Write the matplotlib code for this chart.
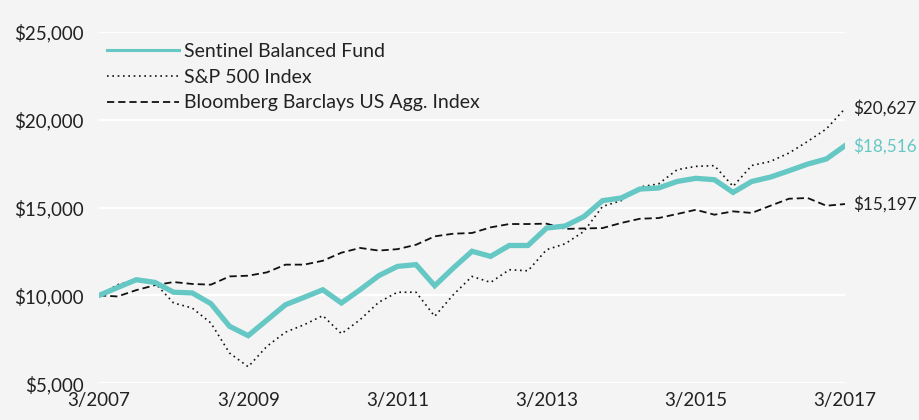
import matplotlib.pyplot as plt
from matplotlib.lines import Line2D

# quarterly values, 3/2007 .. 3/2017
quarters = list(range(41))
fund = [10000, 10450, 10890, 10740, 10180, 10140, 9530, 8240, 7710, 8590,
        9470, 9890, 10320, 9570, 10320, 11120, 11650, 11750, 10550, 11560,
        12510, 12220, 12840, 12840, 13830, 13950, 14480, 15390, 15540, 16050,
        16110, 16480, 16660, 16580, 15860, 16480, 16730, 17090, 17470, 17760,
        18516]
sp500 = [10000, 10610, 10890, 10700, 9570, 9280, 8430, 6720, 5940, 7100,
         7910, 8330, 8850, 7820, 8620, 9610, 10180, 10180, 8810, 10040,
         11080, 10740, 11460, 11400, 12600, 12940, 13640, 15060, 15390, 16170,
         16340, 17150, 17340, 17380, 16200, 17390, 17620, 18100, 18760, 19470,
         20627]
agg = [10000, 9940, 10300, 10580, 10760, 10650, 10610, 11080, 11120, 11310,
       11750, 11750, 11970, 12430, 12700, 12550, 12630, 12880, 13360, 13510,
       13550, 13870, 14060, 14060, 14080, 13780, 13810, 13830, 14120, 14360,
       14400, 14630, 14870, 14590, 14780, 14690, 15100, 15500, 15540, 15100,
       15197]

series_names = ['Sentinel Balanced Fund', 'S&P 500 Index', 'Bloomberg Barclays US Agg. Index']
end_labels = ['$18,516', '$20,627', '$15,197']
x_ticks = [0, 8, 16, 24, 32, 40]
x_labels = ['3/2007', '3/2009', '3/2011', '3/2013', '3/2015', '3/2017']
y_ticks = [5000, 10000, 15000, 20000, 25000]
y_labels = ['$5,000', '$10,000', '$15,000', '$20,000', '$25,000']

teal = '#66c8c4'
txt = '#222222'
bg = '#f4f4f4'

plt.rcParams['font.family'] = ['Lato', 'DejaVu Sans']

fig = plt.figure(figsize=(9.2, 4.2), dpi=100, facecolor=bg)
ax = fig.add_axes([99 / 920, (420 - 383.3) / 420, 746 / 920, (383.3 - 31.7) / 420])
ax.set_facecolor(bg)

# gridlines
for v in y_ticks:
    ax.axhline(v, color='white', lw=1.6, zorder=0)

ax.plot(quarters, agg, color='#111111', lw=1.3, ls=(0, (4, 2.2)), zorder=2)
ax.plot(quarters, sp500, color='#111111', lw=1.2, ls=(0, (1, 2.2)), zorder=2)
ax.plot(quarters, fund, color=teal, lw=3.8, solid_joinstyle='miter', zorder=3)

ax.set_xlim(0, 40)
ax.set_ylim(5000, 25000)
ax.set_xticks(x_ticks)
ax.set_xticklabels(x_labels)
ax.set_yticks(y_ticks)
ax.set_yticklabels(y_labels)
ax.tick_params(length=0, labelsize=13.5, colors=txt, pad=11)
ax.tick_params(axis='x', pad=6)
for s in ax.spines.values():
    s.set_visible(False)

# end-of-line value labels
ax.annotate(end_labels[0], (40, fund[-1]), xytext=(6, 0), textcoords='offset points',
            va='center', ha='left', fontsize=12.3, color=teal, annotation_clip=False)
ax.annotate(end_labels[1], (40, sp500[-1]), xytext=(6, 0), textcoords='offset points',
            va='center', ha='left', fontsize=12.3, color=txt, annotation_clip=False)
ax.annotate(end_labels[2], (40, agg[-1]), xytext=(6, 0), textcoords='offset points',
            va='center', ha='left', fontsize=12.3, color=txt, annotation_clip=False)

handles = [Line2D([], [], color=teal, lw=2.2),
           Line2D([], [], color='#111111', lw=1.2, ls=(0, (1, 2.2))),
           Line2D([], [], color='#111111', lw=1.3, ls=(0, (4, 2.2)))]
leg = ax.legend(handles, series_names, loc='upper left', bbox_to_anchor=(0.0, 0.99),
                frameon=False, fontsize=14, handlelength=3.7, handletextpad=0.25,
                labelspacing=0.45, borderaxespad=0.0)
for t in leg.get_texts():
    t.set_color(txt)

fig.savefig('out.png', dpi=100, facecolor=bg)
